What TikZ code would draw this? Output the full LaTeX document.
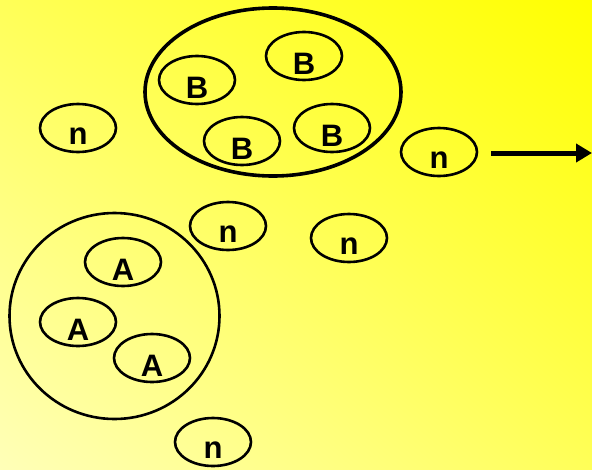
\documentclass[tikz,border=0pt]{standalone}
\usepackage{fontspec}
\setmainfont{Liberation Sans}
\usetikzlibrary{shapes.geometric,arrows.meta,shadings}
\definecolor{palecorner}{HTML}{FFFFB8}
\definecolor{midcorner}{HTML}{FFFF58}
\definecolor{deepcorner}{HTML}{FFFF00}
\tikzset{
  cell/.style={ellipse, draw=black, line width=2.6pt, inner sep=0pt,
    minimum width=76pt, minimum height=48pt},
  lbl/.style={font=\bfseries\fontsize{31}{31}\selectfont, yshift=-8pt, inner sep=0pt},
  arrowline/.style={line width=5pt, -{Triangle[length=16pt,width=18pt]}}
}
\begin{document}
\begin{tikzpicture}[x=1pt,y=-1pt]
  % background gradient
  \shade[lower left=palecorner, upper right=deepcorner,
         upper left=midcorner, lower right=midcorner]
    (0,0) rectangle (592,469);
  \useasboundingbox (0,0) rectangle (592,469);

  % group B
  \node[ellipse, draw, line width=3.6pt, minimum width=256pt, minimum height=168pt, inner sep=0pt] (gb) at (273,92) {};
  \node[cell, label={[lbl]center:B}] (b1) at (197,80) {};
  \node[cell, label={[lbl]center:B}] (b2) at (304,56) {};
  \node[cell, label={[lbl]center:B}] (b3) at (242,141) {};
  \node[cell, label={[lbl]center:B}] (b4) at (332,128) {};

  % group A
  \node[ellipse, draw, line width=2.6pt, minimum width=210pt, minimum height=206pt, inner sep=0pt] (ga) at (114.5,316) {};
  \node[cell, label={[lbl]center:A}] (a1) at (123,262) {};
  \node[cell, label={[lbl]center:A}] (a2) at (78,322) {};
  \node[cell, label={[lbl]center:A}] (a3) at (152,358) {};

  % free n cells
  \node[cell, label={[lbl]center:n}] (n1) at (78,128) {};
  \node[cell, label={[lbl]center:n}] (n2) at (439,152) {};
  \node[cell, label={[lbl]center:n}] (n3) at (228,226) {};
  \node[cell, label={[lbl]center:n}] (n4) at (349,238) {};
  \node[cell, label={[lbl]center:n}] (n5) at (213,442) {};

  % outgoing arrow
  \coordinate (out) at (592,153);
  \draw[arrowline] ([xshift=13pt]n2.east |- out) -- (out);
\end{tikzpicture}
\end{document}
